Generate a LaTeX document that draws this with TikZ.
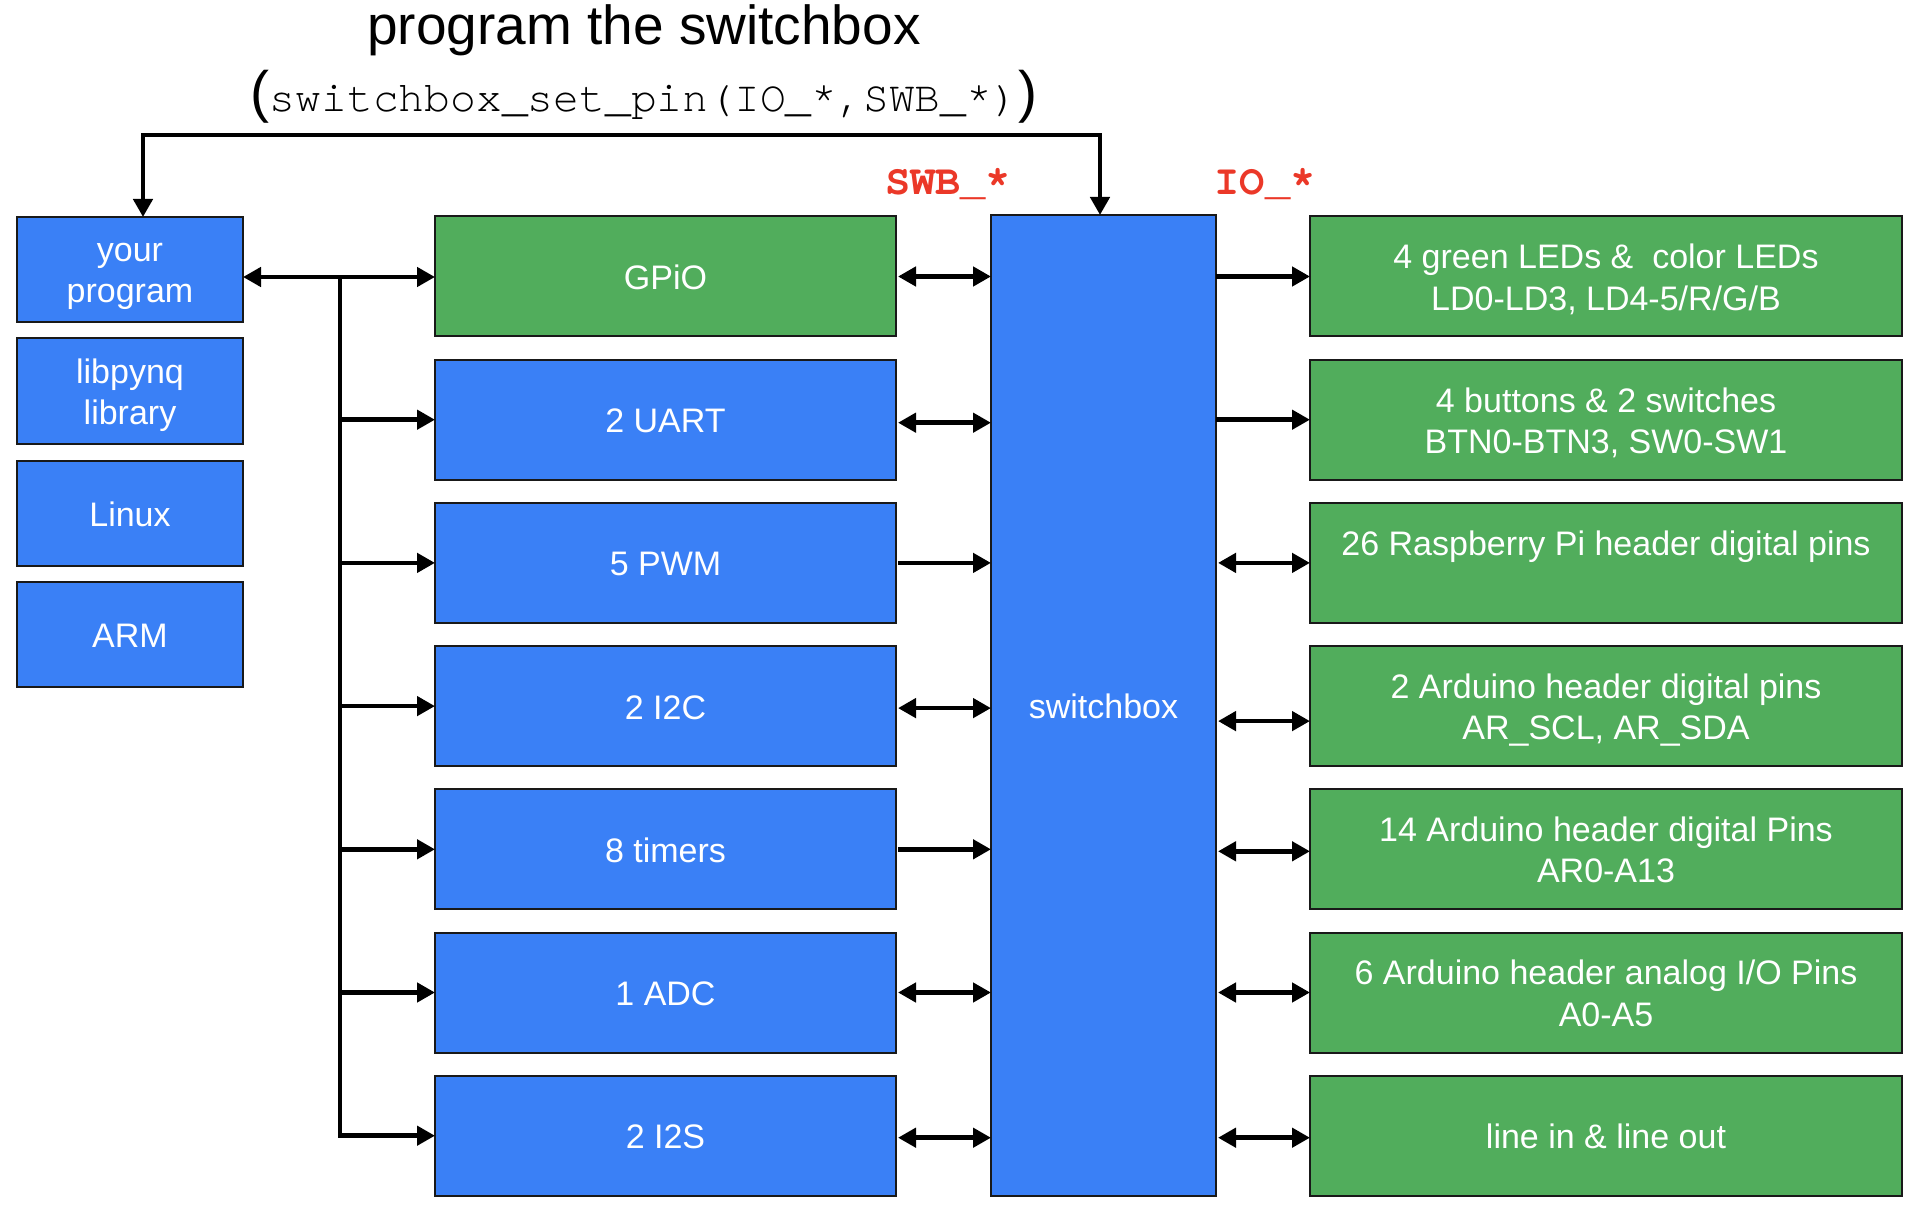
\documentclass[tikz,border=0pt]{standalone}
\usepackage{fontspec}
\setmainfont{Liberation Sans}
\setmonofont{TeX Gyre Cursor}
\usetikzlibrary{arrows.meta}
\definecolor{boxblue}{RGB}{58,128,246}
\definecolor{boxgreen}{RGB}{81,173,92}
\definecolor{lblred}{RGB}{235,56,40}
\newcommand{\bs}{\rule[-7pt]{0pt}{40pt}}
\tikzset{
  box/.style={draw=black!90, line width=2pt, text=white,
    font=\fontsize{34}{39}\selectfont, align=center, inner sep=0pt, outer sep=0pt},
  bluebox/.style={box, fill=boxblue},
  greenbox/.style={box, fill=boxgreen},
  leftbox/.style={bluebox, minimum width=226pt, minimum height=105pt},
  midsize/.style={minimum width=461pt, minimum height=120pt},
  rightbox/.style={greenbox, minimum width=592pt, minimum height=120pt},
  conn/.style={line width=4.5pt},
  oneway/.style={conn, -{Triangle[length=18pt,width=19pt]}},
  twoway/.style={conn, {Triangle[length=18pt,width=19pt]}-{Triangle[length=18pt,width=19pt]}},
  redlbl/.style={text=lblred, font=\ttfamily\bfseries\fontsize{42}{48}\selectfont, inner sep=0pt, anchor=base},
}
\begin{document}
\begin{tikzpicture}[x=1pt,y=-1pt]
\useasboundingbox (0,0) rectangle (1922,1214);

% titles
\node[anchor=base, inner sep=0pt, font=\fontsize{55}{60}\selectfont] (title) at (644,45) {program the switchbox};
\node[anchor=base, inner sep=0pt] (sub) at (644,112)
  {{\fontsize{57}{60}\selectfont(}{\ttfamily\fontsize{43}{50}\selectfont switchbox\_set\_pin(IO\_*,SWB\_*)}{\fontsize{57}{60}\selectfont)}};
\node[redlbl] (swb) at (948,195) {SWB\_*};
\node[redlbl] (io) at (1265,195) {IO\_*};

% left stack
\node[leftbox] (prog) at (130,269.5) {\bs your\\program\bs};
\node[leftbox] (lib) at (130,391) {\bs libpynq\\library\bs};
\node[leftbox] (linux) at (130,513.5) {\bs Linux\bs};
\node[leftbox] (arm) at (130,634.5) {\bs ARM\bs};

% middle column
\node[greenbox, midsize] (gpio) at (665.5,276.5) {\bs GPiO\bs};
\node[bluebox, midsize] (uart) at (665.5,419.7) {\bs 2 UART\bs};
\node[bluebox, midsize] (pwm) at (665.5,562.9) {\bs 5 PWM\bs};
\node[bluebox, midsize] (i2c) at (665.5,706.1) {\bs 2 I2C\bs};
\node[bluebox, midsize] (tim) at (665.5,849.3) {\bs 8 timers\bs};
\node[bluebox, midsize] (adc) at (665.5,992.5) {\bs 1 ADC\bs};
\node[bluebox, midsize] (i2s) at (665.5,1135.7) {\bs 2 I2S\bs};

% switchbox
\node[bluebox, minimum width=225pt, minimum height=981pt] (sw) at (1103.5,705.5) {\bs switchbox\bs};

% right column
\node[rightbox] (leds) at (1606,276.5) {\bs 4 green LEDs \&\ \ color LEDs\\LD0-LD3, LD4-5/R/G/B\bs};
\node[rightbox] (btn) at (1606,419.7) {\bs 4 buttons \& 2 switches\\BTN0-BTN3, SW0-SW1\bs};
\node[rightbox] (rpi) at (1606,562.9) {\bs 26 Raspberry Pi header digital pins\\\bs};
\node[rightbox] (ard) at (1606,706.1) {\bs 2 Arduino header digital pins\\AR\_SCL, AR\_SDA\bs};
\node[rightbox] (ardd) at (1606,849.3) {\bs 14 Arduino header digital Pins\\AR0-A13\bs};
\node[rightbox] (arda) at (1606,992.5) {\bs 6 Arduino header analog I/O Pins\\A0-A5\bs};
\node[rightbox] (line) at (1606,1135.7) {\bs line in \& line out\bs};

% top connector
\coordinate (tl) at (143,135);
\coordinate (tr) at (1100,135);
\draw[twoway] (tl |- prog.north) -- (tl) -- (tr) -- (tr |- sw.north);

% bus
\coordinate (bt) at (340,277);
\draw[twoway] (prog.east |- bt) -- (gpio.west |- bt);
\draw[oneway] (bt) -- (bt |- i2s.west) -- (i2s.west);
\foreach \n in {uart,pwm,i2c,tim,adc}
  \draw[oneway] (bt |- \n.west) -- (\n.west);

% middle to switchbox
\draw[twoway] ([xshift=2pt]gpio.east) -- (gpio.east -| sw.west);
\draw[twoway] ([xshift=2pt,yshift=-3pt]uart.east) -- ([yshift=-3pt]uart.east -| sw.west);
\draw[oneway] ([xshift=2pt]pwm.east) -- (pwm.east -| sw.west);
\draw[twoway] ([xshift=2pt,yshift=-2pt]i2c.east) -- ([yshift=-2pt]i2c.east -| sw.west);
\draw[oneway] ([xshift=2pt]tim.east) -- (tim.east -| sw.west);
\draw[twoway] ([xshift=2pt]adc.east) -- (adc.east -| sw.west);
\draw[twoway] ([xshift=2pt,yshift=-2pt]i2s.east) -- ([yshift=-2pt]i2s.east -| sw.west);

% switchbox to right
\draw[oneway] (leds.west -| sw.east) -- (leds.west);
\draw[oneway] (btn.west -| sw.east) -- (btn.west);
\draw[twoway] ([xshift=2pt]rpi.west -| sw.east) -- (rpi.west);
\draw[twoway] ([xshift=2pt,yshift=-15pt]ard.west -| sw.east) -- ([yshift=-15pt]ard.west);
\draw[twoway] ([xshift=2pt,yshift=-2pt]ardd.west -| sw.east) -- ([yshift=-2pt]ardd.west);
\draw[twoway] ([xshift=2pt]arda.west -| sw.east) -- (arda.west);
\draw[twoway] ([xshift=2pt,yshift=-2pt]line.west -| sw.east) -- ([yshift=-2pt]line.west);
\end{tikzpicture}
\end{document}
